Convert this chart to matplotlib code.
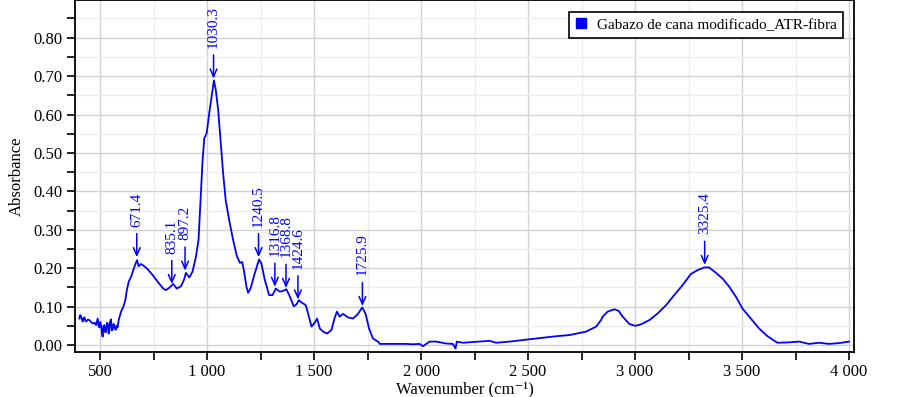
import matplotlib
matplotlib.use("Agg")
import matplotlib.pyplot as plt
from matplotlib.ticker import FuncFormatter, MultipleLocator

# spectrum (wavenumber in cm-1, absorbance)
wavenumber = [
    403, 407, 411, 415, 419, 423, 427, 431, 435, 442, 450, 458, 466, 474, 481,
    489, 493, 497, 501, 505, 509, 512, 516, 520, 524, 528, 532, 536, 540, 543,
    547, 551, 555, 559, 563, 567, 571, 575, 578, 582, 587, 598, 609, 618, 625,
    634, 645, 655, 665, 673, 680, 691, 707, 723, 746, 769, 795, 808, 823, 842,
    858, 878, 893, 901, 917, 932, 948, 960, 971, 979, 987, 998, 1010, 1021,
    1032, 1041, 1052, 1063, 1075, 1087, 1105, 1122, 1138, 1153, 1164, 1172,
    1184, 1192, 1203, 1223, 1243, 1254, 1270, 1290, 1306, 1321, 1340, 1355,
    1371, 1387, 1405, 1418, 1429, 1441, 1461, 1472, 1488, 1503, 1514, 1527,
    1542, 1561, 1581, 1597, 1607, 1620, 1635, 1659, 1682, 1705, 1725, 1741,
    1757, 1775, 1799, 1807, 1931, 1962, 1993, 2009, 2040, 2071, 2118, 2149,
    2161, 2167, 2195, 2273, 2320, 2351, 2413, 2507, 2631, 2693, 2771, 2818,
    2841, 2849, 2872, 2903, 2923, 2942, 2973, 3001, 3028, 3067, 3105, 3145,
    3183, 3222, 3261, 3292, 3323, 3346, 3378, 3409, 3440, 3471, 3502, 3541,
    3580, 3619, 3665, 3720, 3766, 3813, 3860, 3906, 3953, 4000,
]
absorbance = [
    0.069, 0.078, 0.075, 0.066, 0.061, 0.070, 0.072, 0.064, 0.061, 0.066,
    0.065, 0.060, 0.056, 0.058, 0.052, 0.069, 0.050, 0.046, 0.060, 0.052,
    0.030, 0.022, 0.048, 0.052, 0.033, 0.035, 0.058, 0.056, 0.030, 0.037,
    0.062, 0.067, 0.038, 0.041, 0.055, 0.052, 0.040, 0.041, 0.050, 0.046,
    0.065, 0.087, 0.100, 0.117, 0.143, 0.165, 0.178, 0.195, 0.211, 0.221,
    0.205, 0.211, 0.205, 0.197, 0.182, 0.165, 0.147, 0.143, 0.149, 0.159,
    0.147, 0.153, 0.171, 0.188, 0.176, 0.191, 0.230, 0.273, 0.395, 0.481,
    0.538, 0.551, 0.603, 0.646, 0.689, 0.663, 0.611, 0.533, 0.447, 0.377,
    0.320, 0.273, 0.234, 0.214, 0.216, 0.195, 0.152, 0.136, 0.147, 0.187,
    0.223, 0.212, 0.169, 0.130, 0.130, 0.147, 0.139, 0.141, 0.145, 0.126,
    0.101, 0.106, 0.117, 0.111, 0.104, 0.082, 0.048, 0.058, 0.069, 0.043,
    0.035, 0.030, 0.039, 0.072, 0.087, 0.074, 0.081, 0.072, 0.069, 0.081,
    0.098, 0.081, 0.043, 0.017, 0.009, 0.003, 0.003, 0.002, 0.003, -0.003,
    0.009, 0.009, 0.004, 0.003, -0.009, 0.009, 0.006, 0.009, 0.011, 0.006,
    0.009, 0.015, 0.023, 0.026, 0.035, 0.048, 0.065, 0.074, 0.087, 0.093,
    0.089, 0.074, 0.055, 0.050, 0.054, 0.065, 0.082, 0.104, 0.130, 0.156,
    0.185, 0.195, 0.202, 0.202, 0.188, 0.173, 0.152, 0.126, 0.095, 0.069,
    0.043, 0.023, 0.006, 0.007, 0.009, 0.003, 0.006, 0.003, 0.005, 0.009,
]

peak_labels = ["671.4", "835.1", "897.2", "1030.3", "1240.5", "1316.8",
               "1368.8", "1424.6", "1725.9", "3325.4"]
peak_wn = [671.4, 835.1, 897.2, 1030.3, 1240.5, 1316.8, 1368.8, 1424.6,
           1725.9, 3325.4]
peak_abs = [0.225, 0.155, 0.19, 0.69, 0.225, 0.148, 0.145, 0.115, 0.098, 0.205]

series_name = "Gabazo de cana modificado_ATR-fibra"


def thousands(v, pos):
    return f"{int(v):,}".replace(",", " ")


def main() -> None:
    plt.rcParams["font.family"] = ["Liberation Serif", "DejaVu Serif"]
    plt.rcParams["font.size"] = 11

    fig = plt.figure(figsize=(9.03, 3.97), dpi=100)
    ax = fig.add_axes([0.0831, 0.1134, 0.8626, 0.8856])

    ax.plot(wavenumber, absorbance, color="#0000ff", lw=1.3)

    for lab, wx, wy in zip(peak_labels, peak_wn, peak_abs):
        ax.annotate(
            lab, xy=(wx, wy), xytext=(0, 23), textcoords="offset points",
            rotation=90, ha="center", va="bottom", color="#0000ff",
            fontsize=11,
            arrowprops=dict(arrowstyle="->,head_length=0.5,head_width=0.22",
                            color="#0000ff", lw=1.1, shrinkA=3, shrinkB=1),
        )

    ax.set_xlim(383, 4023)
    ax.set_ylim(-0.018, 0.897)
    ax.xaxis.set_major_locator(MultipleLocator(500))
    ax.xaxis.set_minor_locator(MultipleLocator(250))
    ax.yaxis.set_major_locator(MultipleLocator(0.1))
    ax.yaxis.set_minor_locator(MultipleLocator(0.05))
    ax.xaxis.set_major_formatter(FuncFormatter(thousands))
    ax.yaxis.set_major_formatter(FuncFormatter(lambda v, p: f"{v:.2f}"))

    ax.grid(which="major", color="#d2d2d2", lw=1.0)
    ax.grid(which="minor", color="#ececec", lw=1.0)
    ax.set_axisbelow(True)

    ax.tick_params(which="major", direction="out", length=6, width=1.2,
                   labelsize=12, pad=3)
    ax.tick_params(which="minor", direction="out", length=6, width=1.2)
    for s in ax.spines.values():
        s.set_linewidth(1.3)

    ax.set_xlabel("Wavenumber (cm\u207b\u00b9)", fontsize=12, labelpad=1)
    ax.set_ylabel("Absorbance", fontsize=12, labelpad=6)

    # legend shows a blue square, not a line
    sq = plt.Line2D([], [], ls="none", marker="s", ms=6.5, color="#0000ff")
    leg = ax.legend([sq], [series_name], loc="upper right", fancybox=False,
                    edgecolor="black", framealpha=1, fontsize=11,
                    borderaxespad=0.75, borderpad=0.4, handlelength=0.8,
                    handletextpad=0.6)
    leg.get_frame().set_linewidth(1.2)

    fig.savefig("out.png", dpi=100)


if __name__ == "__main__":
    main()
